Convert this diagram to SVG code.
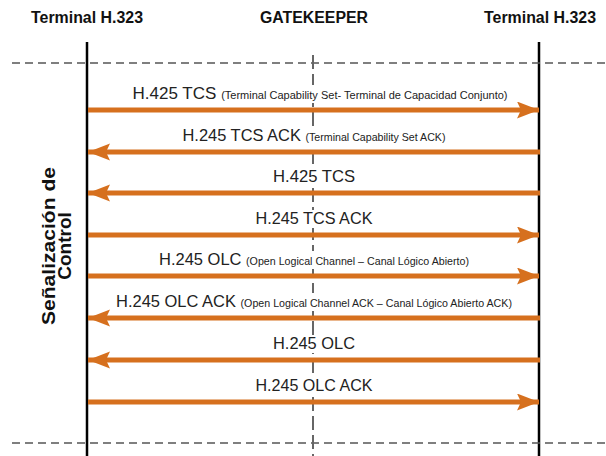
<svg xmlns="http://www.w3.org/2000/svg" width="606" height="456" viewBox="0 0 606 456">
<style>
.title{font-family:"Liberation Sans",Arial,sans-serif;font-weight:bold;font-size:16px;fill:#111;text-anchor:middle}
.lbl{font-family:"Liberation Sans",Arial,sans-serif;font-size:17px;fill:#222;text-anchor:middle}
.sm{font-size:11px}
.side{font-family:"Liberation Sans",Arial,sans-serif;font-weight:bold;font-size:19px;fill:#111;text-anchor:middle}
.life{stroke:#000;stroke-width:2.5;fill:none}
.hdash{stroke:#555;stroke-width:1.3;stroke-dasharray:8 5;fill:none}
.gk{stroke:#666;stroke-width:2;stroke-dasharray:14 5;fill:none}
.msg{stroke:#D6701E;stroke-width:5;fill:none;marker-end:url(#ah)}
.bg{fill:#fff}
</style>
<defs>
<marker id="ah" markerUnits="userSpaceOnUse" markerWidth="24" markerHeight="18" refX="22" refY="8.5" orient="auto">
<path d="M0,0 L22,8.5 L0,17 L4,8.5 Z" fill="#D6701E"/>
</marker>
</defs>
<g id="header">
<g id="terminal-left"><text class="title" x="87" y="23" textLength="112" lengthAdjust="spacingAndGlyphs">Terminal H.323</text><line class="life" x1="87" y1="42" x2="87" y2="456"/></g>
<g id="gatekeeper"><text class="title" x="314" y="23" textLength="108" lengthAdjust="spacingAndGlyphs">GATEKEEPER</text></g>
<g id="terminal-right"><text class="title" x="540" y="23" textLength="112" lengthAdjust="spacingAndGlyphs">Terminal H.323</text><line class="life" x1="539" y1="42" x2="539" y2="456"/></g>
</g>
<g id="phase-lines">
<line class="hdash" x1="12" y1="63" x2="606" y2="63"/>
<line class="hdash" x1="12" y1="443" x2="606" y2="443"/>
</g>
<g id="gatekeeper-line"><line class="gk" x1="313" y1="55" x2="313" y2="456"/></g>
<g id="side-label">
<text class="side" transform="translate(55,246) rotate(-90)"><tspan x="0" y="0" textLength="158" lengthAdjust="spacingAndGlyphs">Señalización de</tspan><tspan x="0" y="16">Control</tspan></text>
</g>
<g id="connectors">
<g id="m1"><rect class="bg" x="131" y="85" width="380" height="18"/><text class="lbl" x="320" y="99" textLength="375" lengthAdjust="spacingAndGlyphs">H.425 TCS <tspan class="sm">(Terminal Capability Set- Terminal de Capacidad Conjunto)</tspan></text><line class="msg" x1="88" y1="110" x2="539" y2="110"/></g>
<g id="m2"><rect class="bg" x="181" y="127" width="268" height="18"/><text class="lbl" x="314" y="141" textLength="263" lengthAdjust="spacingAndGlyphs">H.245 TCS ACK <tspan class="sm">(Terminal Capability Set ACK)</tspan></text><line class="msg" x1="540" y1="152" x2="88" y2="152"/></g>
<g id="m3"><rect class="bg" x="270" y="168" width="88" height="18"/><text class="lbl" x="314" y="182" textLength="82" lengthAdjust="spacingAndGlyphs">H.425 TCS</text><line class="msg" x1="540" y1="193" x2="88" y2="193"/></g>
<g id="m4"><rect class="bg" x="253" y="210" width="122" height="18"/><text class="lbl" x="314" y="224" textLength="117" lengthAdjust="spacingAndGlyphs">H.245 TCS ACK</text><line class="msg" x1="88" y1="235" x2="539" y2="235"/></g>
<g id="m5"><rect class="bg" x="158" y="251" width="314" height="18"/><text class="lbl" x="314" y="265" textLength="310" lengthAdjust="spacingAndGlyphs">H.245 OLC <tspan class="sm">(Open Logical Channel – Canal Lógico Abierto)</tspan></text><line class="msg" x1="88" y1="276" x2="539" y2="276"/></g>
<g id="m6"><rect class="bg" x="114" y="293" width="400" height="18"/><text class="lbl" x="314" y="307" textLength="396" lengthAdjust="spacingAndGlyphs">H.245 OLC ACK <tspan class="sm">(Open Logical Channel ACK – Canal Lógico Abierto ACK)</tspan></text><line class="msg" x1="540" y1="318" x2="88" y2="318"/></g>
<g id="m7"><rect class="bg" x="270" y="335" width="88" height="18"/><text class="lbl" x="314" y="349" textLength="82" lengthAdjust="spacingAndGlyphs">H.245 OLC</text><line class="msg" x1="540" y1="360" x2="88" y2="360"/></g>
<g id="m8"><rect class="bg" x="253" y="377" width="122" height="18"/><text class="lbl" x="314" y="391" textLength="117" lengthAdjust="spacingAndGlyphs">H.245 OLC ACK</text><line class="msg" x1="88" y1="402" x2="539" y2="402"/></g>
</g>
</svg>
